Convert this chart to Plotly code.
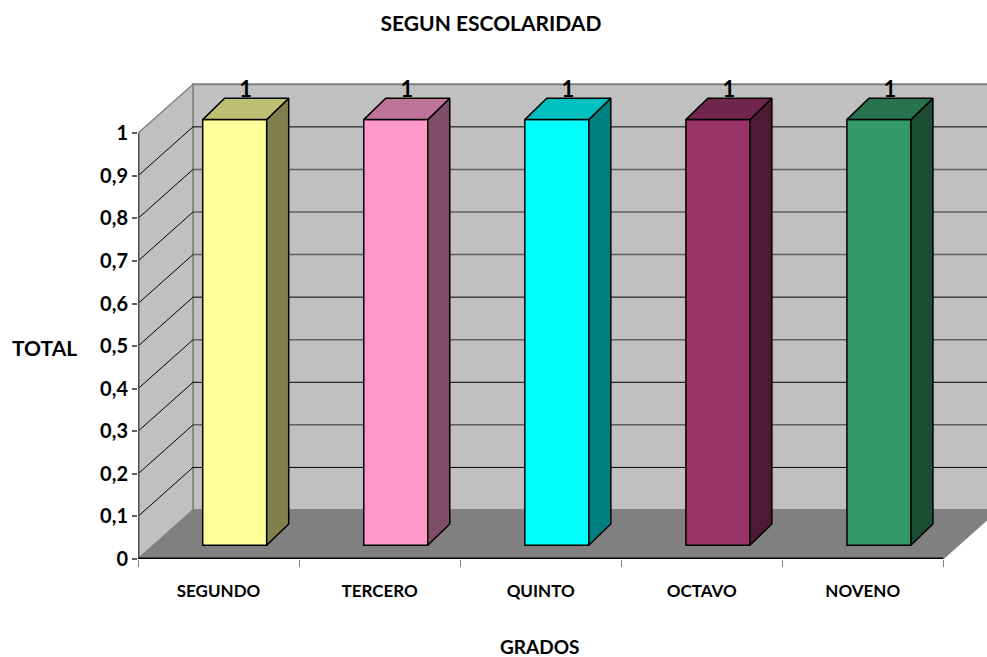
import plotly.graph_objects as go

# ---- data ----
categories = ["SEGUNDO", "TERCERO", "QUINTO", "OCTAVO", "NOVENO"]
values = [1, 1, 1, 1, 1]
tick_values = [0, 0.1, 0.2, 0.3, 0.4, 0.5, 0.6, 0.7, 0.8, 0.9, 1]
tick_labels = ["0", "0,1", "0,2", "0,3", "0,4", "0,5", "0,6", "0,7", "0,8", "0,9", "1"]
bar_colors = ["#FFFF99", "#FF99CC", "#00FFFF", "#993366", "#339966"]
top_colors = ["#BFBF73", "#BF7399", "#00BFBF", "#73264D", "#26734D"]
side_colors = ["#80804D", "#804D66", "#008080", "#4D1A33", "#1A4D33"]
soft_grid_values = [0.2, 0.4, 0.6, 0.7, 0.8]

# ---- geometry ----
W, H = 987, 657
PX0, PX_END, PY0, PY1 = 138.0, 943.3, 559.0, 133.3   # pixel positions of axes
PLOT_TOP = 60
ux = (PX_END - PX0) / 5.0
uy = PY0 - PY1
FONT = "Lato, 'Open Sans', sans-serif"

wall_dx = 55.0 / ux
wall_dy = 49.0 / uy
bar_shift = (234.7 - (PX0 + ux / 2)) / ux
bar_width = 64.0 / ux
bar_base = (PY0 - 545.3) / uy
bar_dx = 22.0 / ux
bar_dy = 21.3 / uy

x_lo = -0.5
x_hi = -0.5 + (W - PX0) / ux
y_hi = (PY0 - PLOT_TOP) / uy

positions = list(range(len(categories)))
shapes = []


def poly(points, fill, line, width=1):
    path = "M " + " L ".join(f"{x},{y}" for x, y in points) + " Z"
    return dict(type="path", path=path, xref="x", yref="y", fillcolor=fill,
                line=dict(color=line, width=width), layer="below")


def seg(x0, y0, x1, y1, color, width=1):
    return dict(type="line", x0=x0, y0=y0, x1=x1, y1=y1, xref="x", yref="y",
                line=dict(color=color, width=width), layer="below")


end = len(categories) - 0.5
shapes.append(poly([(-0.5 + wall_dx, wall_dy), (end + wall_dx, wall_dy), (end + wall_dx, 1 + wall_dy), (-0.5 + wall_dx, 1 + wall_dy)], "#C0C0C0", "#808080", 2))
shapes.append(poly([(-0.5, 0), (-0.5 + wall_dx, wall_dy), (-0.5 + wall_dx, 1 + wall_dy), (-0.5, 1)], "#C0C0C0", "#808080", 1.5))
shapes.append(poly([(-0.5, 0), (end, 0), (end + wall_dx, wall_dy), (-0.5 + wall_dx, wall_dy)], "#808080", "#808080", 1))
for v in tick_values[1:-1]:
    shapes.append(seg(-0.5, v, -0.5 + wall_dx, v + wall_dy, "#000000", 1))
    soft = v in soft_grid_values
    shapes.append(seg(-0.5 + wall_dx, v + wall_dy, end + wall_dx, v + wall_dy,
                      "#606060" if soft else "#000000", 1.5 if soft else 1))
shapes.append(seg(-0.5, 0, -0.5, 1, "#505050", 3))
shapes.append(seg(-0.5, 0, end, 0, "#000000", 3))

fig = go.Figure()
bar_x = [p + bar_shift for p in positions]
fig.add_trace(go.Bar(x=bar_x, y=values, base=bar_base, width=bar_width,
                     marker=dict(color=bar_colors, line=dict(color="#000000", width=1.5)),
                     hoverinfo="skip", showlegend=False))

for xc, v, top, side in zip(bar_x, values, top_colors, side_colors):
    xl, xr = xc - bar_width / 2, xc + bar_width / 2
    yb, yt = bar_base, bar_base + v
    fig.add_trace(go.Scatter(x=[xr, xr + bar_dx, xr + bar_dx, xr, xr],
                             y=[yb, yb + bar_dy, yt + bar_dy, yt, yb],
                             mode="lines", fill="toself", fillcolor=side,
                             line=dict(color="#000000", width=1.5),
                             hoverinfo="skip", showlegend=False))
    fig.add_trace(go.Scatter(x=[xl, xl + bar_dx, xr + bar_dx, xr, xl],
                             y=[yt, yt + bar_dy, yt + bar_dy, yt, yt],
                             mode="lines", fill="toself", fillcolor=top,
                             line=dict(color="#000000", width=1.5),
                             hoverinfo="skip", showlegend=False))

fig.add_trace(go.Scatter(x=[x + bar_dx / 2 for x in bar_x],
                         y=[v + bar_base + bar_dy - 0.011 for v in values],
                         text=[str(v) for v in values], mode="text",
                         textposition="top center",
                         textfont=dict(family=FONT, size=22, color="#000000", weight="bold"),
                         hoverinfo="skip", showlegend=False))

fig.update_layout(
    width=W, height=H, autosize=False,
    margin=dict(l=PX0, r=0, t=PLOT_TOP, b=H - PY0, pad=0),
    paper_bgcolor="#FFFFFF", plot_bgcolor="#FFFFFF",
    shapes=shapes, showlegend=False,
    title=dict(text="SEGUN ESCOLARIDAD", x=491 / W, y=1 - 24 / H, xanchor="center", yanchor="middle",
               font=dict(family=FONT, size=21, color="#000000", weight="bold")),
    xaxis=dict(range=[x_lo, x_hi], tickmode="array", tickvals=positions, ticktext=categories,
               ticks="outside", ticklen=17, tickcolor="rgba(0,0,0,0)", showgrid=False, zeroline=False,
               showline=False, tickangle=0,
               tickfont=dict(family=FONT, size=17, color="#000000", weight="bold"),
               minor=dict(tickmode="array", tickvals=[p - 0.5 for p in positions] + [end],
                          ticks="outside", ticklen=7, tickcolor="#808080", tickwidth=1, showgrid=False)),
    yaxis=dict(range=[0, y_hi], tickmode="array", tickvals=tick_values, ticktext=tick_labels,
               ticks="outside", ticklen=5, tickcolor="#606060", tickwidth=1.5, showgrid=False, zeroline=False,
               showline=False,
               tickfont=dict(family=FONT, size=20, color="#000000", weight="bold")),
    annotations=[
        dict(text="TOTAL", xref="paper", yref="paper", x=(44 - PX0) / (W - PX0), y=(PY0 - 347.5) / (PY0 - PLOT_TOP),
             xanchor="center", yanchor="middle", showarrow=False,
             font=dict(family=FONT, size=21, color="#000000", weight="bold")),
        dict(text="GRADOS", xref="paper", yref="paper", x=(539 - PX0) / (W - PX0), y=(PY0 - 646.5) / (PY0 - PLOT_TOP),
             xanchor="center", yanchor="middle", showarrow=False,
             font=dict(family=FONT, size=19, color="#000000", weight="bold")),
    ],
)

fig.write_html("out.html", config={"displayModeBar": False},
               post_script="document.body.style.margin='0';")
